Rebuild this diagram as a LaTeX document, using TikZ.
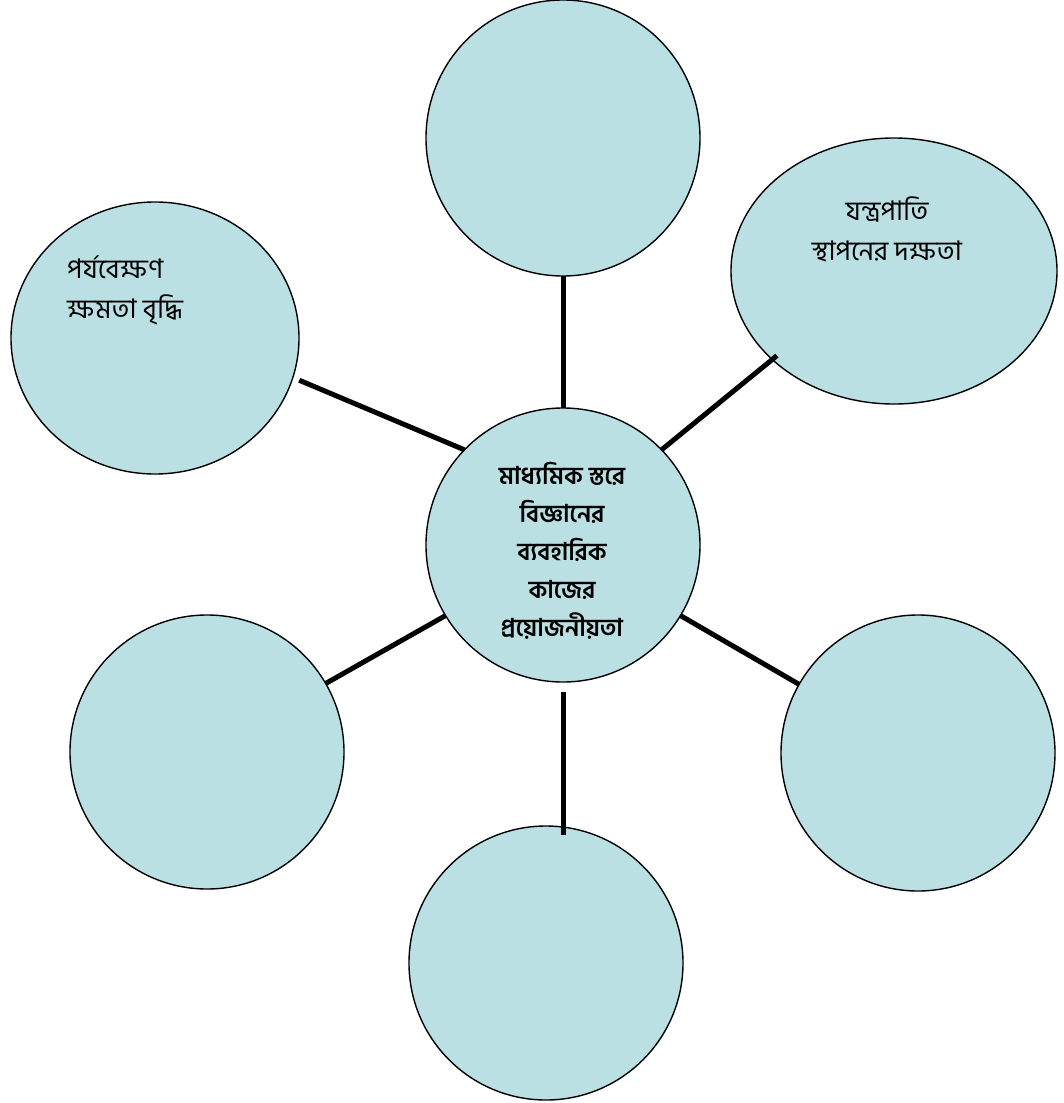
\documentclass[tikz,border=0pt]{standalone}
\usepackage{fontspec}
\newfontfamily\bn[Script=Bengali]{Hind Siliguri}
\usetikzlibrary{shapes.geometric}
\definecolor{bubble}{RGB}{187,224,227}
\tikzset{
  bubble/.style={ellipse, draw=black, line width=1.4pt, fill=bubble, inner sep=0pt, outer sep=0pt},
  link/.style={line width=5pt},
  lbl/.style={inner sep=0pt, font=\bn\fontsize{27}{40}\selectfont},
  clbl/.style={inner sep=0pt, align=center, font=\bn\bfseries\fontsize{24.5}{38}\selectfont}
}
\begin{document}
\begin{tikzpicture}[x=1pt,y=-1pt]
\useasboundingbox (0,0) rectangle (1063,1103);
\node[bubble, minimum width=274pt, minimum height=276pt] (t)  at (563,138) {};
\node[bubble, minimum width=326pt, minimum height=266pt] (rt) at (894,271) {};
\node[bubble, minimum width=288pt, minimum height=272pt] (lt) at (155,338) {};
\node[bubble, minimum width=274pt, minimum height=274pt] (c)  at (563,545) {};
\node[bubble, minimum width=274pt, minimum height=274pt] (lb) at (207,752) {};
\node[bubble, minimum width=274pt, minimum height=276pt] (rb) at (918,753) {};
\node[bubble, minimum width=274pt, minimum height=274pt] (b)  at (546,963) {};

\node[lbl, align=left, anchor=west] (ltt) at (67,290) {পর্যবেক্ষণ\\ক্ষমতা বৃদ্ধি};
\node[lbl, align=center] (rtt) at (887,229) {যন্ত্রপাতি\\স্থাপনের দক্ষতা};
\node[clbl] (ct) at (562,551) {মাধ্যমিক স্তরে\\বিজ্ঞানের\\ব্যবহারিক\\কাজের\\প্রয়োজনীয়তা};

\draw[link] (t.south) -- (c.north);
\draw[link, shorten >=-6pt] (c.44) -- (rt.216.6);
\draw[link, shorten >=7pt] (c.136.5) -- (lt.-16.5);
\draw[link] (c.211) -- (lb.30);
\draw[link] (c.-31) -- (rb.150);
\draw[link] ([yshift=-10pt]c.south) -- ([yshift=-9pt]c.south |- b.north);
\end{tikzpicture}
\end{document}
